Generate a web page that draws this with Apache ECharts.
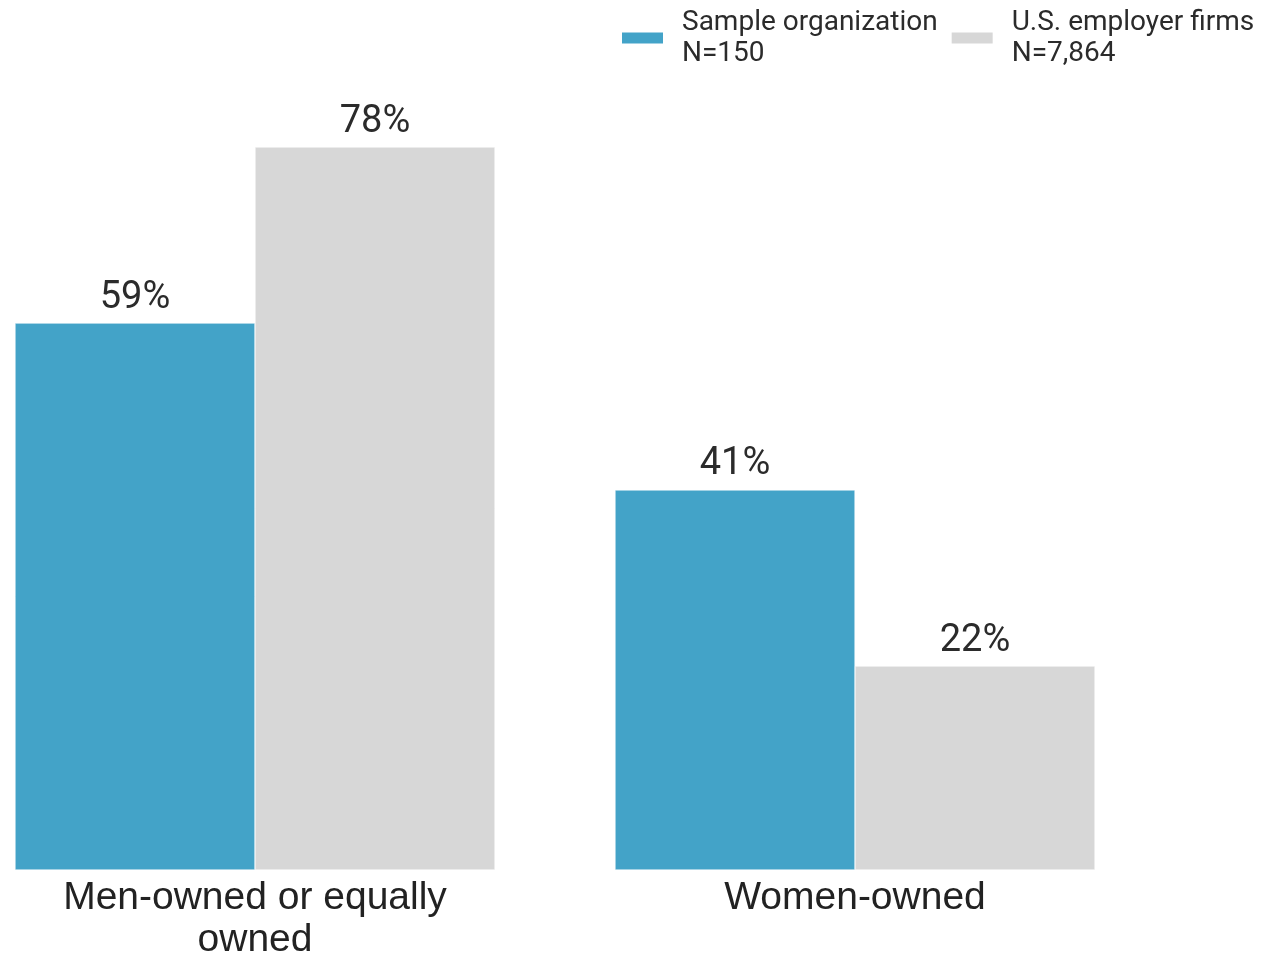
<!DOCTYPE html>
<html>
<head>
<meta charset="utf-8">
<script src="https://cdn.jsdelivr.net/npm/echarts@6/dist/echarts.min.js"></script>
<style>
html,body{margin:0;padding:0;background:#fff;}
#chart{width:1262px;height:955px;}
</style>
</head>
<body>
<div id="chart"></div>
<script>
const categories = ['Men-owned or equally\nowned', 'Women-owned'];
const seriesNames = ['Sample organization\nN=150', 'U.S. employer firms\nN=7,864'];
const sampleValues = [59, 41];
const usValues = [78, 22];

const chart = echarts.init(document.getElementById('chart'), null, {renderer: 'canvas'});
const labelStyle = {
  show: true,
  position: 'top',
  distance: 6,
  formatter: '{c}%',
  fontFamily: 'Roboto',
  fontSize: 38,
  color: '#2b2b2b'
};
chart.setOption({
  animation: false,
  backgroundColor: '#ffffff',
  legend: {
    top: 7,
    left: 620,
    width: 700,
    padding: 0,
    orient: 'horizontal',
    itemWidth: 43,
    itemHeight: 13,
    itemGap: 12,
    icon: 'rect',
    textStyle: {
      fontFamily: 'Roboto',
      fontSize: 28,
      lineHeight: 31,
      color: '#2b2b2b',
      padding: [0, 0, 0, 13]
    },
    data: seriesNames
  },
  grid: {
    left: 255,
    right: 407,
    top: 147,
    bottom: 85,
    containLabel: false,
    outerBoundsMode: 'none'
  },
  xAxis: {
    type: 'category',
    data: categories,
    boundaryGap: false,
    axisLine: {show: false},
    axisTick: {show: false},
    axisLabel: {
      fontFamily: 'Liberation Sans',
      fontSize: 39,
      lineHeight: 42,
      color: '#222',
      margin: 7,
      interval: 0
    }
  },
  yAxis: {
    type: 'value',
    min: 0,
    max: 78,
    show: false,
    splitLine: {show: false}
  },
  series: [
    {
      name: seriesNames[0],
      type: 'bar',
      data: sampleValues,
      barWidth: 240,
      barGap: '0%',
      clip: false,
      itemStyle: {color: '#43a3c8', borderColor: '#ffffff', borderWidth: 0.5},
      label: labelStyle
    },
    {
      name: seriesNames[1],
      type: 'bar',
      data: usValues,
      barWidth: 240,
      barGap: '0%',
      clip: false,
      itemStyle: {color: '#d7d7d7', borderColor: '#ffffff', borderWidth: 0.5},
      label: labelStyle
    }
  ]
});
</script>
</body>
</html>
